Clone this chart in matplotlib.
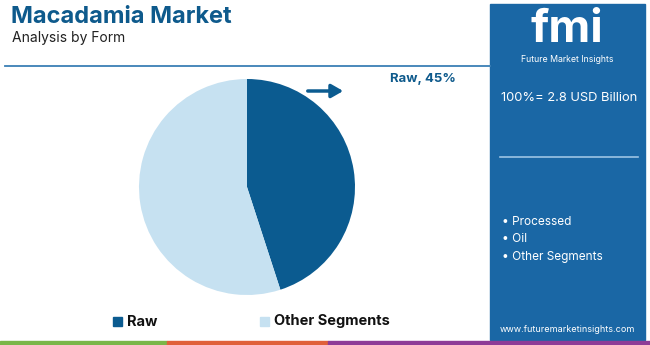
import matplotlib
matplotlib.use("Agg")
import matplotlib.pyplot as plt
from matplotlib.patches import Rectangle

plt.rcParams['font.family'] = ['Inter', 'DejaVu Sans']

categories = ["Raw", "Other Segments"]
values = [45, 55]
colors = ["#0b5b90", "#c6e1f1"]
title = "Macadamia Market"
subtitle = "Analysis by Form"
total_label = "100%= 2.8 USD Billion"
side_items = ["Processed", "Oil", "Other Segments"]

W, H = 650, 345
fig = plt.figure(figsize=(W/100, H/100), dpi=100)
bg = fig.add_axes([0, 0, 1, 1])
bg.set_xlim(0, W); bg.set_ylim(H, 0); bg.axis('off')

# title
bg.text(11, 17, title, fontsize=17, fontweight='bold', color='#0e5a8c', va='center', ha='left')
bg.text(12, 38, subtitle, fontsize=10, color='#222222', va='center', ha='left')
bg.plot([5, 490], [66, 66], color='#3a7fb5', lw=1.3)

# right panel
panel_color = '#1a67a5'
bg.add_patch(Rectangle((490, 4), 155, 336, color=panel_color, zorder=1))
bg.text(567, 30, "fmi", fontsize=33, fontweight='bold', color='white', ha='center', va='center', zorder=2)
bg.text(567, 59, "Future Market Insights", fontsize=6.3, color='white', ha='center', va='center', zorder=2)
bg.text(501, 98, total_label, fontsize=9.3, color='white', ha='left', va='center', zorder=2)
bg.plot([500, 638], [157, 157], color='#9cc4e4', lw=1.2, zorder=2)
for i, s in enumerate(side_items):
    bg.text(502, 222 + i*17.5, "\u2022 " + s, fontsize=8.5, color='white', ha='left', va='center', zorder=2)
bg.text(567, 330, "www.futuremarketinsights.com", fontsize=6.5, color='white', ha='center', va='center', zorder=2)

# bottom strips
bg.add_patch(Rectangle((0, 341), 167, 4, color='#7ab648', zorder=2))
bg.add_patch(Rectangle((167, 341), 161, 4, color='#e0603a', zorder=2))
bg.add_patch(Rectangle((328, 341), 322, 4, color='#8e3b97', zorder=2))

# pie
cx, cy, r = 247, 187, 108
pax = fig.add_axes([(cx - r)/W, (H - cy - r)/H, 2*r/W, 2*r/H])
pax.pie(values, colors=colors, startangle=90, counterclock=False,
        wedgeprops=dict(linewidth=0))
pax.set_xlim(-1, 1); pax.set_ylim(-1, 1)
pax.set_aspect('auto')

# arrow and label
bg.annotate("", xy=(346, 91), xytext=(305, 91),
            arrowprops=dict(arrowstyle='-|>,head_length=0.7,head_width=0.4', color='#0b5b90', lw=2.5))
bg.text(423, 79, f"{categories[0]}, {values[0]}%", fontsize=9.5, fontweight='bold', color='#0e5a8c', ha='center', va='center')

# legend
bg.add_patch(Rectangle((113, 317), 9, 9, color=colors[0]))
bg.text(127, 321.5, categories[0], fontsize=10.5, fontweight='bold', color='#111111', va='center')
bg.add_patch(Rectangle((260, 317), 9, 9, color=colors[1]))
bg.text(274, 321.5, categories[1], fontsize=10.5, fontweight='bold', color='#111111', va='center')

fig.savefig("out.png", dpi=100)
